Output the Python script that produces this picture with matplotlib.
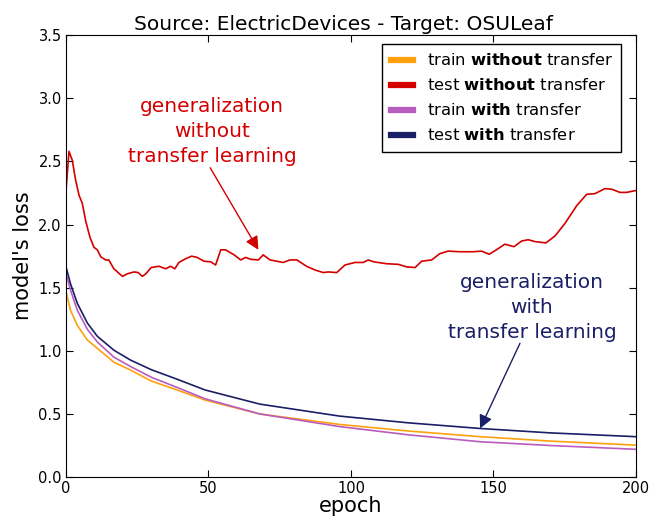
import numpy as np
import matplotlib
matplotlib.use("Agg")
import matplotlib.pyplot as plt

# values
red_epochs = [0, 1.05, 2.2, 3.4, 4.6, 5.7, 6.9, 8.4, 9.8, 11, 12.2, 13.9, 15, 16.8, 19.8,
              21.5, 23.9, 25.3, 26.8, 28, 29.9, 32.6, 35, 36.7, 38.2, 39.6, 42, 44.1, 46,
              48.4, 50.8, 52.5, 54.3, 56, 59, 61.3, 63, 64.8, 67.5, 69.2, 71.6, 76.2, 78.6,
              81, 84.4, 87.4, 90.3, 92, 95, 97.9, 101.4, 104.3, 106.1, 108, 112.5, 116.6,
              119.5, 122.5, 124.8, 128.3, 131.2, 134.1, 138.2, 142.9, 145.8, 148.5, 151,
              154, 157.2, 159.9, 162.2, 164.6, 168.4, 171.6, 175.1, 179.2, 182.7, 185.6,
              189.1, 191.5, 194.4, 196.7, 200]
red_loss = [2.27, 2.58, 2.51, 2.35, 2.23, 2.17, 2.03, 1.90, 1.82, 1.80, 1.745, 1.72, 1.72,
            1.65, 1.59, 1.61, 1.625, 1.62, 1.59, 1.61, 1.66, 1.67, 1.65, 1.67, 1.65, 1.70,
            1.73, 1.75, 1.74, 1.71, 1.705, 1.68, 1.80, 1.80, 1.76, 1.72, 1.74, 1.725, 1.72,
            1.76, 1.72, 1.70, 1.72, 1.72, 1.67, 1.64, 1.62, 1.625, 1.62, 1.68, 1.70, 1.70,
            1.72, 1.705, 1.69, 1.685, 1.665, 1.66, 1.71, 1.72, 1.77, 1.79, 1.785, 1.785,
            1.79, 1.765, 1.80, 1.845, 1.825, 1.87, 1.88, 1.865, 1.855, 1.91, 2.01, 2.15,
            2.24, 2.245, 2.285, 2.28, 2.255, 2.255, 2.27]

smooth_epochs = [0, 1.6, 4, 7.5, 11, 16.8, 22.7, 30, 39, 48.8, 68, 96, 120, 145.3, 170, 200]
train_without = [1.47, 1.32, 1.20, 1.085, 1.02, 0.91, 0.847, 0.76, 0.69, 0.61, 0.50, 0.417,
                 0.365, 0.32, 0.285, 0.253]
train_with = [1.61, 1.48, 1.32, 1.17, 1.07, 0.95, 0.875, 0.79, 0.71, 0.62, 0.50, 0.40,
              0.335, 0.28, 0.25, 0.22]
test_with = [1.665, 1.53, 1.375, 1.22, 1.115, 1.005, 0.926, 0.85, 0.775, 0.69, 0.578, 0.483,
             0.43, 0.385, 0.35, 0.32]

c_orange = "#ffa00f"
c_red = "#d40000"
c_purple = "#b85cc0"
c_navy = "#1a1f66"

plt.rcParams['mathtext.fontset'] = 'dejavusans'
fig = plt.figure(figsize=(6.6, 5.18), dpi=100)
ax = fig.add_axes([0.1, 0.079, 0.8636, 0.853])

ax.plot(smooth_epochs, train_without, color=c_orange, lw=1.2, label=r"train $\bf{without}$ transfer")
ax.plot(red_epochs, red_loss, color=c_red, lw=1.2, label=r"test $\bf{without}$ transfer")
ax.plot(smooth_epochs, train_with, color=c_purple, lw=1.2, label=r"train $\bf{with}$ transfer")
ax.plot(smooth_epochs, test_with, color=c_navy, lw=1.2, label=r"test $\bf{with}$ transfer")

ax.set_xlim(0, 200)
ax.set_ylim(0, 3.5)
ax.set_xticks([0, 50, 100, 150, 200])
ax.set_yticks(np.arange(0, 3.51, 0.5))
ax.tick_params(direction='in', top=True, right=True, labelsize=10.5, length=5, pad=3)
ax.set_xlabel("epoch", fontsize=15, labelpad=0)
ax.set_ylabel("model's loss", fontsize=15)
ax.set_title("Source: ElectricDevices - Target: OSULeaf", fontsize=14.5, pad=4, x=0.487)

# annotations: text and arrow drawn separately
ax.text(51.2, 2.74, "generalization\nwithout\ntransfer learning", ha='center', va='center',
        color=c_red, fontsize=14.5, linespacing=1.4)
ax.annotate("", xy=(67.5, 1.80), xytext=(50.6, 2.45),
            arrowprops=dict(arrowstyle='-|>', color=c_red, lw=1, mutation_scale=20,
                            shrinkA=0, shrinkB=0))
ax.text(163.5, 1.346, "generalization\nwith\ntransfer learning", ha='center', va='center',
        color=c_navy, fontsize=14.5, linespacing=1.4)
ax.annotate("", xy=(145.3, 0.385), xytext=(159.3, 1.06),
            arrowprops=dict(arrowstyle='-|>', color=c_navy, lw=1, mutation_scale=20,
                            shrinkA=0, shrinkB=0))

leg = ax.legend(loc='upper right', fontsize=11.8, handlelength=1.4, fancybox=False,
                framealpha=1, borderpad=0.5, borderaxespad=0, labelspacing=0.55,
                bbox_to_anchor=(0.9737, 0.9796))
leg.get_frame().set_edgecolor('black')
for line in leg.get_lines():
    line.set_linewidth(4.5)

fig.savefig("out.png")
